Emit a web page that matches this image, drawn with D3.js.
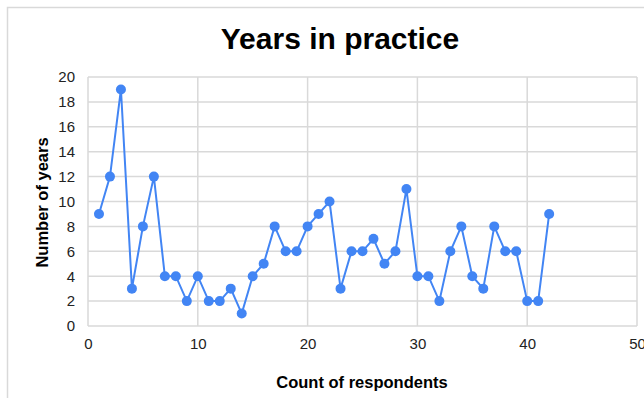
<!DOCTYPE html>
<html><head><meta charset="utf-8">
<script src="https://cdn.jsdelivr.net/npm/d3@7"></script>
<style>html,body{margin:0;padding:0;background:#fff;}svg{display:block;}</style>
</head><body>
<svg id="c" width="644" height="398"></svg>
<script>
const respondents = d3.range(1, 43);
const years = [9,12,19,3,8,12,4,4,2,4,2,2,3,1,4,5,8,6,6,8,9,10,3,6,6,7,5,6,11,4,4,2,6,8,4,3,8,6,6,2,2,9];
const xTicks = [0,10,20,30,40,50];
const yTicks = [0,2,4,6,8,10,12,14,16,18,20];

const svg = d3.select("#c");
const font = "Arial, 'Liberation Sans', sans-serif";
// outer border
svg.append("path").attr("d","M7.5,398 V7.5 H644").attr("fill","none").attr("stroke","#d9d9d9").attr("stroke-width",1.5);

const x = d3.scaleLinear().domain([0,50]).range([88,637]);
const y = d3.scaleLinear().domain([0,20]).range([326,77]);

const g = svg.append("g");
// gridlines
g.selectAll(".vg").data(xTicks).join("line")
  .attr("x1",d=>x(d)).attr("x2",d=>x(d)).attr("y1",y(0)).attr("y2",y(20))
  .attr("stroke","#d9d9d9").attr("stroke-width",1.5);
g.selectAll(".hg").data(yTicks).join("line")
  .attr("x1",x(0)).attr("x2",x(50)).attr("y1",d=>y(d)).attr("y2",d=>y(d))
  .attr("stroke","#d9d9d9").attr("stroke-width",1.5);

// axes labels via d3 axes
const xAxis = d3.axisBottom(x).tickValues(xTicks).tickSize(0).tickPadding(12);
const yAxis = d3.axisLeft(y).tickValues(yTicks).tickSize(0).tickPadding(13);
const xa = svg.append("g").attr("transform",`translate(0,${y(0)})`).call(xAxis);
const ya = svg.append("g").attr("transform",`translate(${x(0)},0)`).call(yAxis);
[xa,ya].forEach(a=>{
  a.select(".domain").remove();
  a.selectAll("text").attr("font-family",font).attr("font-size",15).attr("fill","#222");
});

// line
const line = d3.line().x((d,i)=>x(respondents[i])).y(d=>y(d));
svg.append("path").datum(years).attr("d",line).attr("fill","none")
  .attr("stroke","#4285F4").attr("stroke-width",2);
svg.selectAll(".pt").data(years).join("circle")
  .attr("cx",(d,i)=>x(respondents[i])).attr("cy",d=>y(d)).attr("r",5)
  .attr("fill","#4285F4");

// titles
svg.append("text").attr("x",340).attr("y",49).attr("text-anchor","middle")
  .attr("font-family",font).attr("font-size",30).attr("font-weight","bold").attr("fill","#000")
  .text("Years in practice");
svg.append("text").attr("x",362).attr("y",388).attr("text-anchor","middle")
  .attr("font-family",font).attr("font-size",16.5).attr("font-weight","bold").attr("fill","#000")
  .text("Count of respondents");
svg.append("text").attr("transform",`translate(48,${(y(0)+y(20))/2 + 1}) rotate(-90)`).attr("text-anchor","middle")
  .attr("font-family",font).attr("font-size",16.5).attr("font-weight","bold").attr("fill","#000")
  .text("Number of years");
</script>
</body></html>
